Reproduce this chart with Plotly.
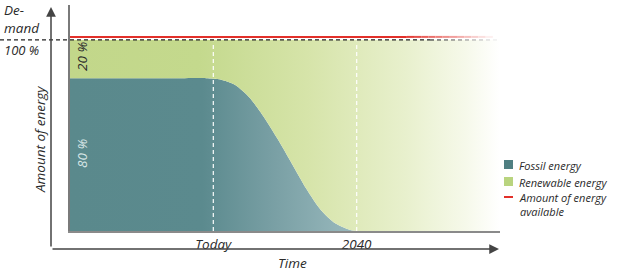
import plotly.graph_objects as go

# ---- data ----
years = [2000, 2016, 2019, 2021, 2023, 2025, 2027, 2029, 2031, 2033, 2035, 2037, 2039, 2040, 2060]
fossil = [80, 80, 80, 79.3, 76.5, 70, 60, 48, 35, 22, 11, 4, 0.6, 0, 0]
demand = 100
available = 101.6
x_ticks = [2020, 2040]
x_tick_labels = ["Today", "2040"]
legend_labels = ["Fossil energy", "Renewable energy", "Amount of energy<br>available"]

X0, X1 = 2000, 2060
YMAX = 118.3
L, R, T, B = 70, 500, 5, 231
W, H = R - L, B - T

def px(xp):
    return (xp - L) / W

def py(yp):
    return (B - yp) / H

FONT = "Open Sans"
TXT = "#2a2a2a"

def mix(c1, c2, t):
    return "rgb(%d,%d,%d)" % tuple(round(a + (b - a) * t) for a, b in zip(c1, c2))

fig = go.Figure()

# fossil area
fig.add_trace(go.Scatter(
    x=years, y=fossil, mode="lines", line=dict(width=0, shape="spline", smoothing=0.7),
    fill="tozeroy",
    fillgradient=dict(type="horizontal", start=2000, stop=2041,
                      colorscale=[[0, "#5a898c"], [0.45, "#5b8a8e"], [0.7, "#7aa0a5"], [1, "#9dbcc0"]]),
    showlegend=False, hoverinfo="skip"))

# renewable area (from fossil up to demand)
fig.add_trace(go.Scatter(
    x=years, y=[demand] * len(years), mode="lines", line=dict(width=0),
    fill="tonexty",
    fillgradient=dict(type="horizontal", start=2000, stop=2060,
                      colorscale=[[0, "#c2d78a"], [0.3, "#c4d98d"], [0.55, "#d6e4a9"],
                                  [0.78, "#e8f0cd"], [0.92, "#f6f9ea"], [1, "#ffffff"]]),
    showlegend=False, hoverinfo="skip"))

# amount of energy available (red line), fading out on the right
RED = (226, 48, 42)
WHITE = (255, 255, 255)
fig.add_trace(go.Scatter(
    x=[X0, 2047], y=[available, available], mode="lines",
    line=dict(color=mix(RED, WHITE, 0), width=2), showlegend=False, hoverinfo="skip"))
for i in range(12):
    xa, xb = 2047 + i, 2048 + i
    fig.add_trace(go.Scatter(
        x=[xa, xb], y=[available, available], mode="lines",
        line=dict(color=mix(RED, WHITE, (i + 1) / 13), width=2), showlegend=False, hoverinfo="skip"))

# demand dashed line, fading out on the right
fig.add_shape(type="line", xref="paper", yref="y", x0=px(0), x1=px(430), y0=demand, y1=demand,
              line=dict(color="#222", width=1.2, dash="4px,3px"))
DARK = (34, 34, 34)
for i in range(10):
    xa, xb = 430 + i * 7, 437 + i * 7
    fig.add_shape(type="line", xref="paper", yref="y", x0=px(xa), x1=px(xb), y0=demand, y1=demand,
                  line=dict(color=mix(DARK, WHITE, (i + 1) / 11), width=1.2, dash="4px,3px"))

# vertical white dashed markers
for xv in x_ticks:
    fig.add_shape(type="line", xref="x", yref="y", x0=xv, x1=xv, y0=0, y1=demand - 1,
                  line=dict(color="rgba(255,255,255,0.9)", width=1.3, dash="4px,3px"))

# outer arrows
fig.add_annotation(xref="paper", yref="paper", x=px(51), y=py(7), ax=0, ay=241,
                   axref="pixel", ayref="pixel", text="", showarrow=True,
                   arrowhead=2, arrowsize=1.3, arrowwidth=1.5, arrowcolor="#444")
fig.add_annotation(xref="paper", yref="paper", x=px(499), y=py(249), ax=-448, ay=0,
                   axref="pixel", ayref="pixel", text="", showarrow=True,
                   arrowhead=2, arrowsize=1.3, arrowwidth=1.5, arrowcolor="#444")

def txt(x, y, s, size=13, color=TXT, angle=0, xanchor="center", yanchor="middle", align="center"):
    fig.add_annotation(xref="paper", yref="paper", x=px(x), y=py(y), text=s, showarrow=False,
                       textangle=angle, xanchor=xanchor, yanchor=yanchor, align=align,
                       font=dict(family=FONT, size=size, color=color, style="italic"))

txt(2, 19, "De-<br>mand", size=13.5, xanchor="left", align="left")
txt(2, 50, "100 %", size=13, xanchor="left")
txt(40, 140, "Amount of energy", size=13.5, angle=-90)
txt(292, 263, "Time", size=13.5)
txt(82, 57, "20 %", size=13.5, angle=-90)
txt(82, 154, "80 %", size=13.5, color="#d9e7e7", angle=-90)

# legend (manual)
fig.add_shape(type="rect", xref="paper", yref="paper", x0=px(504), x1=px(513), y0=py(169), y1=py(160),
              fillcolor="#4f7f82", line=dict(width=0))
fig.add_shape(type="rect", xref="paper", yref="paper", x0=px(504), x1=px(513), y0=py(186), y1=py(177),
              fillcolor="#b9d47f", line=dict(width=0))
fig.add_shape(type="line", xref="paper", yref="paper", x0=px(504), x1=px(513), y0=py(197), y1=py(197),
              line=dict(color="#e2302a", width=2))
txt(517, 165, legend_labels[0], size=11, xanchor="left", align="left")
txt(517, 182, legend_labels[1], size=11, xanchor="left", align="left")
txt(517, 204, legend_labels[2], size=11, xanchor="left", align="left")

fig.update_layout(
    width=620, height=276,
    margin=dict(l=L, r=620 - R, t=T, b=276 - B, pad=0),
    paper_bgcolor="white", plot_bgcolor="white",
    showlegend=False,
    xaxis=dict(range=[X0, X1], showgrid=False, zeroline=False, showline=True,
               linecolor="#8a8a8a", linewidth=1.5, tickvals=x_ticks, ticktext=x_tick_labels,
               ticks="", ticklen=0, tickfont=dict(family=FONT, size=13.5, color=TXT, style="italic"),
               fixedrange=True),
    yaxis=dict(range=[0, YMAX], showgrid=False, zeroline=False, showline=True,
               linecolor="#7a7a7a", linewidth=1.5, showticklabels=False, ticks="",
               fixedrange=True),
)

fig.write_html("out.html", config={"displayModeBar": False})
